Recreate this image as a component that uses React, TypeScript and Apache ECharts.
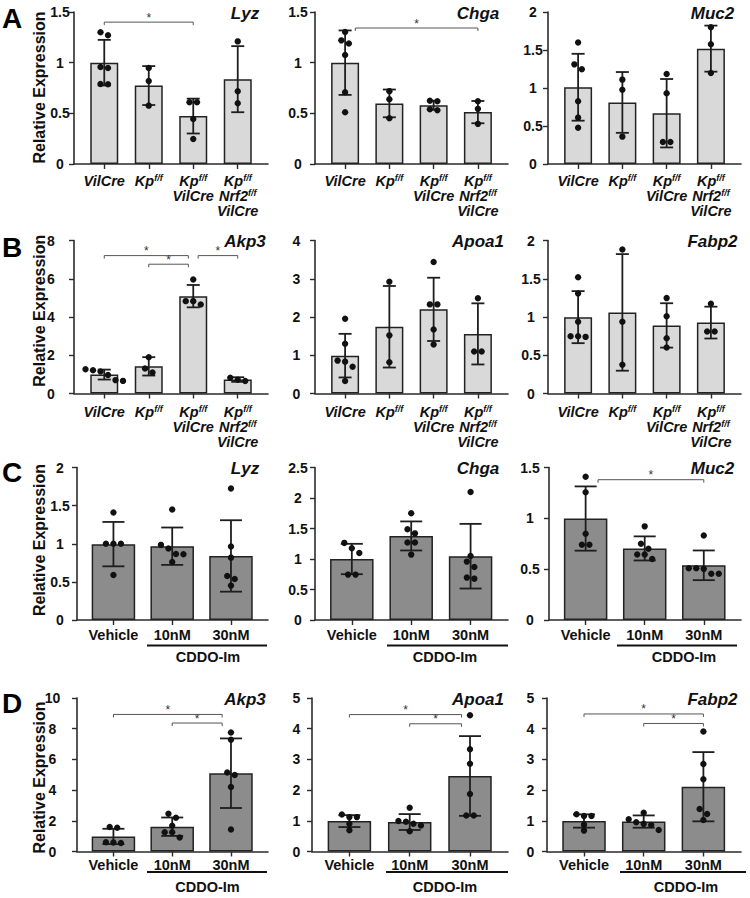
import React, { useEffect, useRef } from "react";
import * as echarts from "echarts";

const FONT = "'Liberation Sans', Arial, Helvetica, sans-serif";

// ---------- categories / tick labels ----------
const genotypeLabels = [
  "{it|VilCre}",
  "{it|Kp}{sup|f/f}",
  "{it|Kp}{sup|f/f}\n{it|VilCre}",
  "{it|Kp}{sup|f/f}\n{it|Nrf2}{sup|f/f}\n{it|VilCre}",
];
const treatmentLabels = ["Vehicle", "10nM", "30nM"];
const genes = ["Lyz", "Chga", "Muc2", "Akp3", "Apoa1", "Fabp2", "Lyz", "Chga", "Muc2", "Akp3", "Apoa1", "Fabp2"];
const panelLetters = ["A", "B", "C", "D"];
const groupLabel = "CDDO-Im";
const yAxisTitle = "Relative Expression";

// ---------- data: row A ----------
const aLyzMean = [1.0, 0.774, 0.473, 0.837];
const aLyzSd = [0.225, 0.192, 0.172, 0.326];
const aLyzDots = [[1.27, 1.3, 0.957, 0.947, 0.786, 0.789], [0.947, 0.819, 0.576], [0.609, 0.609, 0.444, 0.247], [1.21, 0.717, 0.599]];
const aLyzSig = [[0, 2, 1.4]];

const aChgaMean = [1.0, 0.598, 0.58, 0.512];
const aChgaSd = [0.318, 0.137, 0.045, 0.11];
const aChgaDots = [[1.302, 1.22, 1.19, 1.075, 0.709, 0.511], [0.719, 0.64, 0.452], [0.625, 0.62, 0.54, 0.53], [0.62, 0.544, 0.396]];
const aChgaSig = [[0.23, 3, 1.342]];

const aMuc2Mean = [1.01, 0.81, 0.668, 1.518];
const aMuc2Sd = [0.44, 0.4, 0.45, 0.303];
const aMuc2Dots = [[1.6, 1.311, 1.246, 0.825, 0.61, 0.478], [1.11, 0.978, 0.36], [1.184, 0.93, 0.289, 0.289], [1.798, 1.575, 1.197]];
const aMuc2Sig: number[][] = [];

// ---------- data: row B ----------
const bAkp3Mean = [0.99, 1.42, 5.09, 0.73];
const bAkp3Sd = [0.26, 0.48, 0.585, 0.12];
const bAkp3Dots = [[1.27, 1.22, 1.15, 0.97, 0.7, 0.66], [1.9, 1.31, 1.1], [5.96, 4.83, 4.83, 4.65], [0.82, 0.72, 0.65]];
const bAkp3Sig = [[0, 1.89, 7.21], [1, 1.89, 6.76], [2.11, 3, 7.21]];

const bApoa1Mean = [0.99, 1.745, 2.2, 1.558];
const bApoa1Sd = [0.57, 1.066, 0.827, 0.799];
const bApoa1Dots = [[1.956, 1.3, 0.86, 0.833, 0.7, 0.325], [2.92, 1.52, 0.816], [3.44, 2.33, 2.33, 1.675, 1.28], [2.49, 1.1, 1.1]];
const bApoa1Sig: number[][] = [];

const bFabp2Mean = [0.998, 1.06, 0.89, 0.927];
const bFabp2Sd = [0.34, 0.762, 0.29, 0.208];
const bFabp2Dots = [[1.52, 1.307, 0.939, 0.749, 0.74, 0.749], [1.883, 0.939, 0.377], [1.247, 1.009, 0.723, 0.602], [1.173, 0.81, 0.81]];
const bFabp2Sig: number[][] = [];

// ---------- data: row C ----------
const cLyzMean = [0.995, 0.968, 0.84];
const cLyzSd = [0.291, 0.245, 0.4685];
const cLyzDots = [[1.41, 1.0, 1.0, 1.0, 0.59], [1.449, 0.985, 0.937, 0.866, 0.862, 0.761], [1.724, 0.963, 0.818, 0.578, 0.538, 0.451]];
const cLyzSig: number[][] = [];

const cChgaMean = [1.0, 1.378, 1.046];
const cChgaSd = [0.249, 0.238, 0.53];
const cChgaDots = [[1.264, 1.176, 1.1, 0.744, 0.744], [1.75, 1.488, 1.42, 1.269, 1.269, 1.072], [2.1, 1.05, 0.957, 0.87, 0.695, 0.678]];
const cChgaSig: number[][] = [];

const cMuc2Mean = [0.998, 0.704, 0.538];
const cMuc2Sd = [0.316, 0.1185, 0.146];
const cMuc2Dots = [[1.408, 1.257, 0.849, 0.74, 0.74], [0.921, 0.75, 0.7, 0.645, 0.645, 0.6], [0.832, 0.51, 0.51, 0.503, 0.454, 0.454]];
const cMuc2Sig = [[0.21, 2, 1.38]];

// ---------- data: row D ----------
const dAkp3Mean = [0.98, 1.615, 5.1];
const dAkp3Sd = [0.5, 0.6, 2.266];
const dAkp3Dots = [[1.6, 1.55, 0.6, 0.58, 0.55], [2.46, 2.2, 1.68, 1.26, 1.26, 0.915], [7.756, 7.277, 5.142, 4.989, 4.205, 1.438]];
const dAkp3Sig = [[0, 1.85, 8.93], [1, 1.85, 8.37]];

const dApoa1Mean = [0.99, 0.96, 2.46];
const dApoa1Sd = [0.194, 0.2585, 1.2985];
const dApoa1Dots = [[1.207, 1.12, 1.12, 0.905, 0.69], [1.422, 0.991, 0.97, 0.905, 0.85, 0.657], [4.44, 3.33, 2.855, 1.875, 1.175, 1.175]];
const dApoa1Sig = [[0, 1.86, 4.46], [1, 1.86, 4.16]];

const dFabp2Mean = [0.993, 0.975, 2.11];
const dFabp2Sd = [0.216, 0.2, 1.128];
const dFabp2Dots = [[1.21, 1.155, 1.155, 0.875, 0.68], [1.26, 1.05, 0.95, 0.9, 0.86, 0.7], [3.91, 2.85, 2.354, 1.382, 1.22, 1.026]];
const dFabp2Sig = [[0, 2, 4.48], [1, 2, 4.17]];

// y axis scales
const yMaxes = [1.5, 1.5, 2, 8, 4, 2, 2, 2.5, 1.5, 10, 5, 5];
const ySteps = [0.5, 0.5, 0.5, 2, 1, 0.5, 0.5, 0.5, 0.5, 2, 1, 1];

// ---------- layout ----------
const rowTops = [12, 240.5, 467.5, 698];
const rowHeights = [152, 153, 152.5, 153.5];
const colBoxes = [
  [[74, 194], [315, 193], [548, 193]],
  [[74, 194], [315, 193], [548, 193]],
  [[77, 191], [315, 193], [549, 192]],
  [[77, 191], [312, 196], [547, 194]],
];
const yLabelMargins = [14, 17, 15, 23, 18.5, 17, 17, 17, 19, 24.5, 15.5, 16.5];
const geneX = [245, 478, 712.5];
const letterY = [18, 247, 472.5, 703];
const yTitleY = [87.5, 310.7, 540, 777.5];

function swarm(values: number[], pxPerUnit: number, step: number) {
  const order = values.map((_, i) => i).sort((a, b) => values[b] - values[a]);
  const offs = new Array(values.length).fill(0);
  let cluster: number[] = [];
  const flush = () => {
    const k = cluster.length;
    cluster.forEach((id, j) => (offs[id] = (j - (k - 1) / 2) * step));
    cluster = [];
  };
  for (const id of order) {
    if (cluster.length && (values[cluster[cluster.length - 1]] - values[id]) * pxPerUnit >= 5.5) flush();
    cluster.push(id);
  }
  flush();
  return offs;
}

function buildOption() {
  const panels = [
    [aLyzMean, aLyzSd, aLyzDots, aLyzSig],
    [aChgaMean, aChgaSd, aChgaDots, aChgaSig],
    [aMuc2Mean, aMuc2Sd, aMuc2Dots, aMuc2Sig],
    [bAkp3Mean, bAkp3Sd, bAkp3Dots, bAkp3Sig],
    [bApoa1Mean, bApoa1Sd, bApoa1Dots, bApoa1Sig],
    [bFabp2Mean, bFabp2Sd, bFabp2Dots, bFabp2Sig],
    [cLyzMean, cLyzSd, cLyzDots, cLyzSig],
    [cChgaMean, cChgaSd, cChgaDots, cChgaSig],
    [cMuc2Mean, cMuc2Sd, cMuc2Dots, cMuc2Sig],
    [dAkp3Mean, dAkp3Sd, dAkp3Dots, dAkp3Sig],
    [dApoa1Mean, dApoa1Sd, dApoa1Dots, dApoa1Sig],
    [dFabp2Mean, dFabp2Sd, dFabp2Dots, dFabp2Sig],
  ] as [number[], number[], number[][], number[][]][];

  const grids: any[] = [];
  const xAxes: any[] = [];
  const yAxes: any[] = [];
  const series: any[] = [];
  const graphics: any[] = [];
  const axisColor = "#2b2b2b";

  panels.forEach(([mean, sd, dots, sig], i) => {
    const row = Math.floor(i / 3);
    const col = i % 3;
    const geno = row < 2;
    const [left, width] = colBoxes[row][col];
    const top = rowTops[row];
    const height = rowHeights[row];
    const xmin = geno ? -0.68 : -0.62;
    const xmax = geno ? 3.68 : 2.63;
    const labels = geno ? genotypeLabels : treatmentLabels;
    const cats = labels.map((_, k) => k);
    const barW = geno ? 28 : 43.5;
    const capHalf = geno ? 6.5 : 11;
    const pxPerY = height / yMaxes[i];

    grids.push({ left, top, width, height, containLabel: false });
    xAxes.push({
      gridIndex: i,
      type: "value",
      min: xmin,
      max: xmax,
      axisLine: { show: true, onZero: false, lineStyle: { color: axisColor, width: 1.6 } },
      axisTick: { show: true, customValues: cats, length: 5, lineStyle: { color: axisColor, width: 1.4 } },
      splitLine: { show: false },
      axisLabel: {
        customValues: cats,
        formatter: (v: number) => labels[Math.round(v)] ?? "",
        margin: [9, 11.3, 7.5, 5.5][row],
        color: "#111",
        fontFamily: FONT,
        fontWeight: "bold",
        fontSize: 14.5,
        lineHeight: 15,
        rich: {
          it: { fontFamily: FONT, fontWeight: "bold", fontStyle: "italic", fontSize: 14.5, lineHeight: 15, color: "#111" },
          sup: { fontFamily: FONT, fontWeight: "bold", fontStyle: "italic", fontSize: 9, lineHeight: 10, verticalAlign: "top", color: "#111" },
        },
      },
    });
    yAxes.push({
      gridIndex: i,
      type: "value",
      min: 0,
      max: yMaxes[i],
      interval: ySteps[i],
      axisLine: { show: true, onZero: false, lineStyle: { color: axisColor, width: 1.6 } },
      axisTick: { show: true, length: 5, lineStyle: { color: axisColor, width: 1.4 } },
      splitLine: { show: false },
      axisLabel: {
        align: "center",
        margin: yLabelMargins[i],
        color: "#111",
        fontFamily: FONT,
        fontWeight: "bold",
        fontSize: 14,
      },
    });

    series.push({
      type: "bar",
      xAxisIndex: i,
      yAxisIndex: i,
      barWidth: barW,
      silent: true,
      z: 2,
      data: mean.map((m, k) => [k, m]),
      itemStyle: { color: geno ? "#d9d9d9" : "#8c8c8c", borderColor: "#222", borderWidth: 1.5 },
    });

    series.push({
      type: "custom",
      xAxisIndex: i,
      yAxisIndex: i,
      silent: true,
      z: 3,
      data: mean.map((m, k) => [k, m, sd[k]]),
      renderItem: (_p: any, api: any) => {
        const x = api.value(0);
        const m = api.value(1);
        const s = api.value(2);
        const t = api.coord([x, m + s]);
        const b = api.coord([x, m - s]);
        const st = { stroke: "#1e1e1e", lineWidth: 1.8 };
        return {
          type: "group",
          children: [
            { type: "line", shape: { x1: t[0], y1: t[1], x2: b[0], y2: b[1] }, style: st },
            { type: "line", shape: { x1: t[0] - capHalf, y1: t[1], x2: t[0] + capHalf, y2: t[1] }, style: st },
            { type: "line", shape: { x1: b[0] - capHalf, y1: b[1], x2: b[0] + capHalf, y2: b[1] }, style: st },
          ],
        };
      },
    });

    const dotData: number[][] = [];
    dots.forEach((vals, k) => {
      const offs = swarm(vals, pxPerY, 7.5);
      vals.forEach((v, j) => dotData.push([k, v, offs[j]]));
    });
    series.push({
      type: "custom",
      xAxisIndex: i,
      yAxisIndex: i,
      silent: true,
      z: 4,
      data: dotData,
      renderItem: (_p: any, api: any) => {
        const p = api.coord([api.value(0), api.value(1)]);
        return { type: "circle", shape: { cx: p[0] + api.value(2), cy: p[1], r: 3.2 }, style: { fill: "#111" } };
      },
    });

    if (sig.length) {
      series.push({
        type: "custom",
        xAxisIndex: i,
        yAxisIndex: i,
        silent: true,
        z: 5,
        encode: { x: [0, 1], y: 2 },
        data: sig,
        renderItem: (_p: any, api: any) => {
          const a = api.coord([api.value(0), api.value(2)]);
          const b = api.coord([api.value(1), api.value(2)]);
          return {
            type: "group",
            children: [
              {
                type: "polyline",
                shape: { points: [[a[0], a[1] + 3], [a[0], a[1]], [b[0], b[1]], [b[0], b[1] + 3]] },
                style: { stroke: "#555", lineWidth: 1, fill: null },
              },
              {
                type: "text",
                x: (a[0] + b[0]) / 2,
                y: a[1] - 4.5,
                style: { text: "*", fontSize: 12, fontFamily: FONT, fill: "#333", align: "center", verticalAlign: "middle" },
              },
            ],
          };
        },
      });
    }

    graphics.push({
      type: "text",
      x: geneX[col],
      y: top + 1,
      style: {
        text: genes[i],
        fontFamily: FONT,
        fontWeight: "bold",
        fontStyle: "italic",
        fontSize: 17,
        fill: "#111",
        align: "center",
        verticalAlign: "middle",
      },
    });
  });

  panelLetters.forEach((L, r) => {
    graphics.push({
      type: "text",
      x: 12,
      y: letterY[r],
      style: { text: L, fontFamily: FONT, fontWeight: "bold", fontSize: 28, fill: "#000", align: "center", verticalAlign: "middle" },
    });
    graphics.push({
      type: "text",
      x: 39,
      y: yTitleY[r],
      rotation: Math.PI / 2,
      style: { text: yAxisTitle, fontFamily: FONT, fontWeight: "bold", fontSize: 16, fill: "#111", align: "center", verticalAlign: "middle" },
    });
  });

  // CDDO-Im group underlines
  const cddoLines = [
    [[147, 267], [387, 508], [617, 737]],
    [[147, 267], [386, 508], [620, 746]],
  ];
  const cddoLabelX = [
    [208, 445, 684],
    [207.5, 445, 686],
  ];
  const cddoLineY = [645.5, 872];
  const cddoLabelY = [657, 887];
  [0, 1].forEach((r) => {
    cddoLines[r].forEach(([x1, x2], c) => {
      graphics.push({
        type: "line",
        shape: { x1, y1: cddoLineY[r], x2, y2: cddoLineY[r] },
        style: { stroke: "#111", lineWidth: 2 },
      });
      graphics.push({
        type: "text",
        x: cddoLabelX[r][c],
        y: cddoLabelY[r],
        style: { text: groupLabel, fontFamily: FONT, fontWeight: "bold", fontSize: 14.5, fill: "#111", align: "center", verticalAlign: "middle" },
      });
    });
  });

  return {
    animation: false,
    backgroundColor: "#ffffff",
    grid: grids,
    xAxis: xAxes,
    yAxis: yAxes,
    series,
    graphic: graphics,
  };
}

export default function App() {
  const ref = useRef<HTMLDivElement>(null);
  useEffect(() => {
    document.body.style.margin = "0";
    const chart = echarts.init(ref.current!, null, { renderer: "svg" });
    chart.setOption(buildOption() as any);
    return () => chart.dispose();
  }, []);
  return <div ref={ref} style={{ width: 750, height: 898, background: "#fff" }} />;
}
